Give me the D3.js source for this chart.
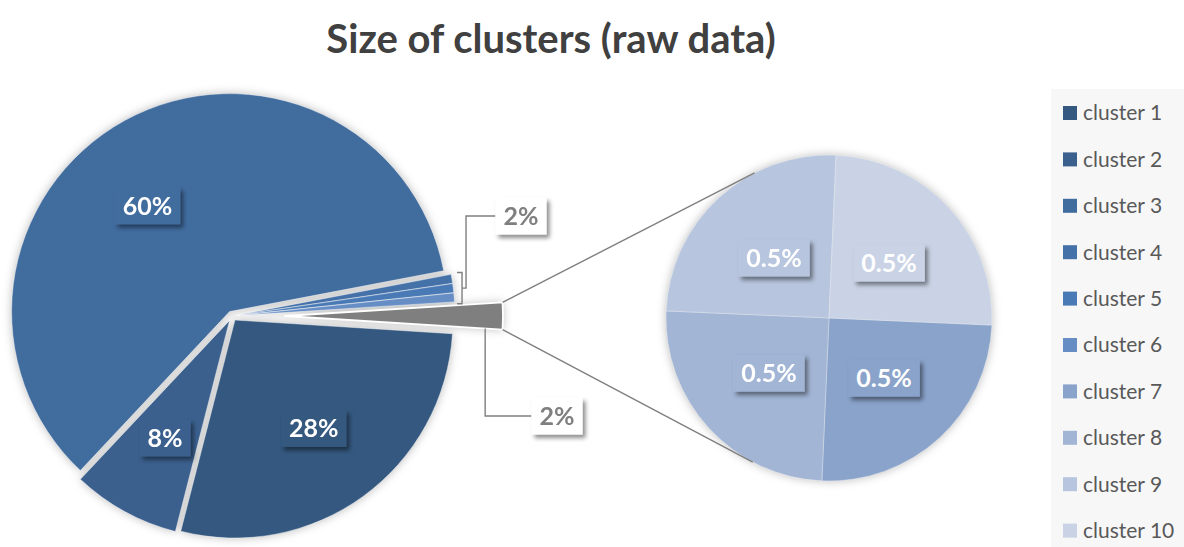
<!DOCTYPE html>
<html>
<head>
<meta charset="utf-8">
<script src="https://cdn.jsdelivr.net/npm/d3@7"></script>
<style>
  html, body { margin: 0; padding: 0; background: #ffffff; }
  svg { display: block; }
</style>
</head>
<body>
<svg id="chart" width="1184" height="547"></svg>
<script>
// ---- data ----
const clusters = ["cluster 1", "cluster 2", "cluster 3", "cluster 4", "cluster 5",
                  "cluster 6", "cluster 7", "cluster 8", "cluster 9", "cluster 10"];
const shares = [28, 8, 60, 0.67, 0.67, 0.66, 0.5, 0.5, 0.5, 0.5];   // percent of all points
const groupedInLabel = ["cluster 4", "cluster 5", "cluster 6"];     // one callout for these
const secondaryCount = 4;                                          // last clusters go to the second pie
const palette = ["#34587f", "#3b608e", "#416c9e", "#4571a9", "#4a7ab6",
                 "#678ec4", "#8aa3cb", "#a2b5d5", "#b7c5de", "#c9d3e5"];
const otherColor = "#7f7f7f";
const titleText = "Size of clusters (raw data)";

// ---- layout ----
const W = 1184, H = 547;
const mainC = [232, 316], mainR = 218;
const secC = [829, 318], secR = 163;
const explode = 5, otherExplode = 53;
const secRotation = 2.5 * Math.PI / 180;
const labelFont = "Lato, 'Open Sans', sans-serif";

const svg = d3.select("#chart");
const defs = svg.append("defs");

// soft halo behind the pies
const halo = defs.append("filter").attr("id", "halo")
  .attr("x", "-15%").attr("y", "-15%").attr("width", "130%").attr("height", "130%");
halo.append("feGaussianBlur").attr("in", "SourceAlpha").attr("stdDeviation", 5).attr("result", "b");
halo.append("feFlood").attr("flood-color", "#000").attr("flood-opacity", 0.27).attr("result", "c");
halo.append("feComposite").attr("in", "c").attr("in2", "b").attr("operator", "in");

// offset shadow under data label boxes
const boxShadow = defs.append("filter").attr("id", "boxShadow")
  .attr("x", "-30%").attr("y", "-30%").attr("width", "160%").attr("height", "170%");
boxShadow.append("feDropShadow").attr("dx", 3).attr("dy", 3.5).attr("stdDeviation", 2)
  .attr("flood-color", "#000").attr("flood-opacity", 0.45);

// legend panel
svg.append("rect").attr("x", 1051).attr("y", 89).attr("width", W - 1051).attr("height", H - 89)
  .attr("fill", "#f7f7f7");

// title
svg.append("text").attr("x", 551).attr("y", 53).attr("text-anchor", "middle")
  .attr("font-family", labelFont).attr("font-weight", 700).attr("font-size", 40)
  .attr("fill", "#404040").text(titleText);

// ---- primary pie ----
const primaryN = clusters.length - secondaryCount;
const mainData = clusters.slice(0, primaryN).map((c, i) => ({ name: c, value: shares[i], color: palette[i] }));
const otherValue = d3.sum(shares.slice(primaryN));
mainData.push({ name: "Other", value: otherValue, color: otherColor, other: true });
const otherAngle = otherValue / d3.sum(mainData, d => d.value) * 2 * Math.PI;
const mainStart = Math.PI / 2 + otherAngle / 2;   // "Other" sits centred on the right-hand horizontal

const mainPie = d3.pie().sort(null).value(d => d.value)
  .startAngle(mainStart).endAngle(mainStart + 2 * Math.PI);
const mainArcs = mainPie(mainData);
const arcMain = d3.arc().innerRadius(0).outerRadius(mainR);

const mid = a => (a.startAngle + a.endAngle) / 2;
const shift = (a, e) => [e * Math.sin(mid(a)), -e * Math.cos(mid(a))];
const explodeOf = a => a.data.other ? otherExplode : explode;

const mainG = svg.append("g").attr("transform", `translate(${mainC})`);
mainG.append("g").attr("filter", "url(#halo)")
  .selectAll("path").data(mainArcs).join("path")
  .attr("d", arcMain)
  .attr("transform", d => `translate(${shift(d, explodeOf(d))})`);
mainG.append("g")
  .selectAll("path").data(mainArcs).join("path")
  .attr("d", arcMain)
  .attr("transform", d => `translate(${shift(d, explodeOf(d))})`)
  .attr("fill", d => d.data.color)
  .attr("stroke", "#ffffff")
  .attr("stroke-width", d => d.data.other ? 1.8 : 0.8)
  .attr("stroke-opacity", d => d.data.other ? 1 : 0.55)
  .attr("stroke-linejoin", "round");

// ---- secondary pie ----
const secData = clusters.slice(primaryN).map((c, i) => ({ name: c, value: shares[primaryN + i], color: palette[primaryN + i] }));
const secPie = d3.pie().sort(null).value(d => d.value)
  .startAngle(Math.PI / 2 + secRotation).endAngle(Math.PI / 2 + secRotation + 2 * Math.PI);
const secArcs = secPie(secData);
const arcSec = d3.arc().innerRadius(0).outerRadius(secR);

const secG = svg.append("g").attr("transform", `translate(${secC})`);
secG.append("g").attr("filter", "url(#halo)")
  .selectAll("path").data(secArcs).join("path").attr("d", arcSec);
secG.append("g")
  .selectAll("path").data(secArcs).join("path")
  .attr("d", arcSec)
  .attr("fill", d => d.data.color)
  .attr("stroke", "#ffffff").attr("stroke-width", 0.6).attr("stroke-opacity", 0.5);

// ---- connector lines from "Other" to the secondary pie ----
const otherArc = mainArcs.find(a => a.data.other);
const oShift = shift(otherArc, otherExplode);
const tip = [mainC[0] + oShift[0], mainC[1] + oShift[1]];
const rim = ang => [tip[0] + mainR * Math.sin(ang), tip[1] - mainR * Math.cos(ang)];
const topCorner = rim(otherArc.startAngle);
const botCorner = rim(otherArc.endAngle);

function tangentPoint(p, upper) {
  const vx = p[0] - secC[0], vy = p[1] - secC[1];
  const d = Math.hypot(vx, vy);
  const phi = Math.atan2(vy, vx);
  const beta = Math.acos(secR / d);
  const a = upper ? phi + beta : phi - beta;
  return [secC[0] + secR * Math.cos(a), secC[1] + secR * Math.sin(a)];
}
const line = d3.line();
const leaderLayer = svg.append("g").attr("fill", "none").attr("stroke", "#7f7f7f").attr("stroke-width", 1.4);
leaderLayer.append("path").attr("d", line([topCorner, tangentPoint(topCorner, true)]));
leaderLayer.append("path").attr("d", line([botCorner, tangentPoint(botCorner, false)]));

// ---- data labels ----
const labelLayer = svg.append("g");
function addLabel(cx, cy, text, fill, textColor) {
  const g = labelLayer.append("g");
  const rect = g.append("rect");
  const t = g.append("text").attr("x", cx).attr("y", cy).attr("dy", "0.36em")
    .attr("text-anchor", "middle")
    .attr("font-family", labelFont).attr("font-weight", 700).attr("font-size", 25)
    .attr("fill", textColor).text(text);
  const w = t.node().getComputedTextLength();
  const bw = w + 16, bh = 37;
  rect.attr("x", cx - bw / 2).attr("y", cy - bh / 2).attr("width", bw).attr("height", bh)
    .attr("fill", fill).attr("filter", "url(#boxShadow)");
  return { left: cx - bw / 2, right: cx + bw / 2, top: cy - bh / 2, bottom: cy + bh / 2 };
}
const pct0 = v => d3.format(".0f")(v) + "%";
const pct1 = v => d3.format(".1f")(v) + "%";

// labels inside the large slices
const labelDist = 134;
const labelTurn = { "cluster 3": -9 * Math.PI / 180 };
mainArcs.filter(a => !a.data.other && !groupedInLabel.includes(a.data.name)).forEach(a => {
  const ang = mid(a) + (labelTurn[a.data.name] || 0);
  const s = shift(a, explode);
  const x = mainC[0] + s[0] + labelDist * Math.sin(ang);
  const y = mainC[1] + s[1] - labelDist * Math.cos(ang);
  addLabel(x, y, pct0(a.data.value), a.data.color, "#ffffff");
});

// labels in the secondary pie
secArcs.forEach(a => {
  const [x, y] = arcSec.centroid(a);
  addLabel(secC[0] + x, secC[1] + y, pct1(a.data.value), a.data.color, "#ffffff");
});

// grouped callout for the thin slices, with a bracket
const groupArcs = mainArcs.filter(a => groupedInLabel.includes(a.data.name));
const gA0 = d3.min(groupArcs, a => a.startAngle), gA1 = d3.max(groupArcs, a => a.endAngle);
const gShift = shift({ startAngle: gA0, endAngle: gA1 }, explode);
const gPt = ang => [mainC[0] + gShift[0] + mainR * Math.sin(ang), mainC[1] + gShift[1] - mainR * Math.cos(ang)];
const gTop = gPt(gA0), gBot = gPt(gA1);
const xh = Math.max(gTop[0], gBot[0]) + 2.5, xv = xh + 5, xn = xv + 4;
const yTop = gTop[1] - 2, yBot = gBot[1] + 2, yMid = (yTop + yBot) / 2;
const groupBox = addLabel(521, 216, pct0(d3.sum(groupArcs, a => a.data.value)), "#ffffff", "#7f7f7f");
leaderLayer.append("path")
  .attr("d", `M${xh},${yTop}H${xv}V${yBot}H${xh}M${xv},${yMid}H${xn}V${(groupBox.top + groupBox.bottom) / 2}H${groupBox.left}`);

// callout for the "Other" slice
const otherBox = addLabel(557, 416, pct0(otherValue), "#ffffff", "#7f7f7f");
const lx = tip[0] + 0.92 * (botCorner[0] - tip[0]);
const ly = tip[1] + 0.92 * (botCorner[1] - tip[1]);
leaderLayer.append("path")
  .attr("d", `M${otherBox.left},${(otherBox.top + otherBox.bottom) / 2}H${lx}V${ly}`);

// ---- legend ----
const legend = svg.append("g");
const rowH = 46.4, firstY = 113;
const items = legend.selectAll("g").data(clusters).join("g")
  .attr("transform", (d, i) => `translate(1063, ${firstY + i * rowH})`);
items.append("rect").attr("x", 0).attr("y", -7).attr("width", 14).attr("height", 14)
  .attr("fill", (d, i) => palette[i]);
items.append("text").attr("x", 20).attr("y", 0).attr("dy", "0.35em")
  .attr("font-family", labelFont).attr("font-size", 21).attr("fill", "#595959")
  .text(d => d);
</script>
</body>
</html>
